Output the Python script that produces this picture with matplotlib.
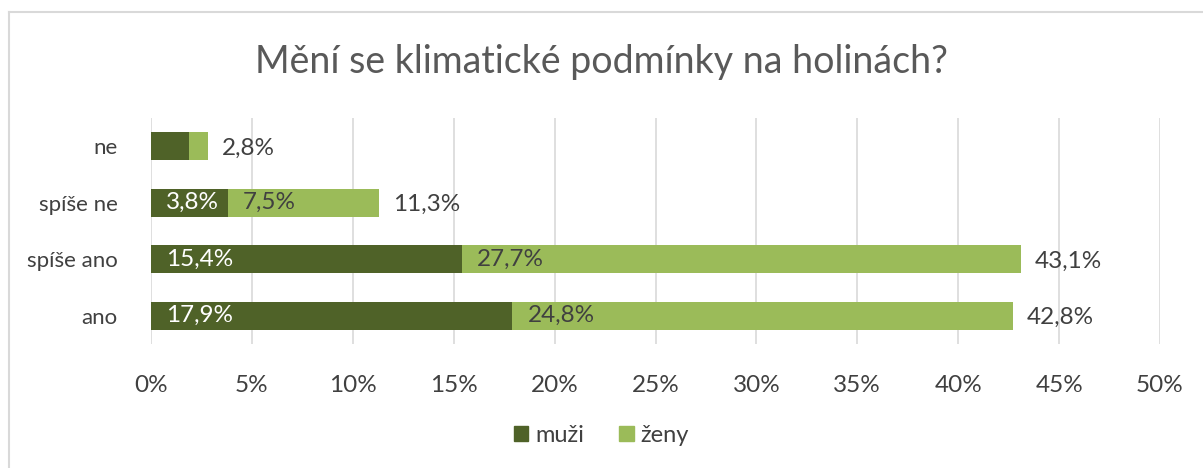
import matplotlib.pyplot as plt
from matplotlib.lines import Line2D
from matplotlib.patches import Patch

# data (bottom to top as drawn)
categories = ["ano", "spíše ano", "spíše ne", "ne"]
muzi = [17.9, 15.4, 3.8, 1.9]
zeny = [24.8, 27.7, 7.5, 0.9]
totals = [42.8, 43.1, 11.3, 2.8]
show_inner = [True, True, True, False]
ticks = [0, 5, 10, 15, 20, 25, 30, 35, 40, 45, 50]

DARK = "#4f6228"
LIGHT = "#9bbb59"
TXT = "#404040"
plt.rcParams["font.family"] = ["Lato", "DejaVu Sans"]

fig = plt.figure(figsize=(12.03, 4.68), dpi=100)
ax = fig.add_axes([151 / 1203, 1 - 344 / 468, (1160 - 151) / 1203, (344 - 118) / 468])

y = list(range(len(categories)))
ax.barh(y, muzi, height=0.5, color=DARK, label="muži", zorder=3)
ax.barh(y, zeny, left=muzi, height=0.5, color=LIGHT, label="ženy", zorder=3)

NUM = 17.5
for i in y:
    if show_inner[i]:
        ax.annotate(f"{muzi[i]:.1f}%".replace(".", ","), (0, i), xytext=(11, 0),
                    textcoords="offset points", va="center", ha="left",
                    color="white", fontsize=NUM, zorder=4)
        ax.annotate(f"{zeny[i]:.1f}%".replace(".", ","), (muzi[i], i), xytext=(11, 0),
                    textcoords="offset points", va="center", ha="left",
                    color=TXT, fontsize=NUM, zorder=4)
    ax.annotate(f"{totals[i]:.1f}%".replace(".", ","), (muzi[i] + zeny[i], i),
                xytext=(10, -1.5), textcoords="offset points", va="center", ha="left",
                color=TXT, fontsize=NUM, zorder=4)

ax.set_xlim(0, 50)
ax.set_ylim(-0.5, len(categories) - 0.5)
ax.set_xticks(ticks)
ax.set_xticklabels([f"{t}%" for t in ticks], fontsize=NUM)
ax.set_yticks(y)
ax.set_yticklabels(categories, fontsize=16)
ax.tick_params(axis="both", length=0, labelcolor=TXT)
ax.tick_params(axis="x", pad=22)
ax.tick_params(axis="y", pad=24)
ax.grid(axis="x", color="#d9d9d9", linewidth=1.2, zorder=0)
for s in ax.spines.values():
    s.set_visible(False)

fig.text(0.5, 1 - 62 / 468, "Mění se klimatické podmínky na holinách?",
         ha="center", va="center", fontsize=27, color="#595959")

handles = [Patch(color=DARK, label="muži"), Patch(color=LIGHT, label="ženy")]
fig.legend(handles=handles, loc="center", bbox_to_anchor=(0.5, 1 - 435 / 468), ncol=2,
           frameon=False, fontsize=17, handlelength=0.6, handleheight=0.6,
           handletextpad=0.3, columnspacing=1.5, labelcolor=TXT)

# chart border (left and top visible)
fig.add_artist(Line2D([9 / 1203, 9 / 1203], [0, 1 - 12 / 468], color="#d9d9d9", lw=1.5))
fig.add_artist(Line2D([9 / 1203, 1], [1 - 12 / 468, 1 - 12 / 468], color="#d9d9d9", lw=1.5))

fig.savefig("out.png", dpi=100)
